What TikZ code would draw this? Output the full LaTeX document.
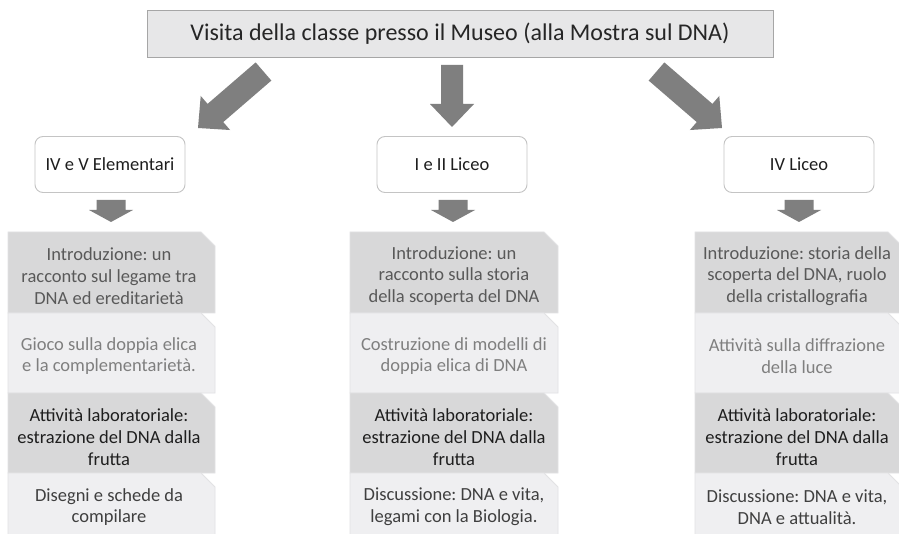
\documentclass[tikz,border=0pt]{standalone}
\usepackage{fontspec}
\setmainfont{Carlito}
\usetikzlibrary{calc}
\definecolor{arrowfill}{HTML}{7F7F7F}
\definecolor{topfill}{HTML}{E7E7E8}
\definecolor{topline}{HTML}{A6A6A6}
\definecolor{boxline}{HTML}{C4C4C4}
\definecolor{darkrow}{HTML}{D8D8D9}
\definecolor{lightrow}{HTML}{EFEFF1}
\definecolor{rowline}{HTML}{E2E2E4}
\definecolor{txtA}{HTML}{595959}
\definecolor{txtB}{HTML}{7F7F7F}
\definecolor{txtC}{HTML}{1E1E1E}
\definecolor{txtD}{HTML}{3F3F3F}
\definecolor{txtTop}{HTML}{262626}
\newcommand\blockarrow[5]{%
  \path coordinate (abase) at ($(#2)!#5!(#1)$);
  \fill[arrowfill] ($(#1)!#3!90:(#2)$) -- ($(abase)!#3!90:(#2)$) -- ($(abase)!#4!90:(#2)$) -- (#2)
    -- ($(abase)!#4!-90:(#2)$) -- ($(abase)!#3!-90:(#2)$) -- ($(#1)!#3!-90:(#2)$) -- cycle;}
\newcommand\rowshape[5]{%
  \filldraw[#5] (#1,#2) -- ({#3-14},#2) -- (#3,{#2+14}) -- (#3,#4) -- (#1,#4) -- cycle;}
\frenchspacing
\begin{document}
\begin{tikzpicture}[x=1pt,y=-1pt,
  topbox/.style={draw=topline, fill=topfill, line width=0.9pt, minimum width=626pt, minimum height=47pt,
    inner sep=0pt, text=txtTop, font=\frenchspacing\fontsize{24}{29}\selectfont},
  levelbox/.style={draw=boxline, fill=white, line width=0.9pt, rounded corners=8pt, minimum width=150pt,
    minimum height=56pt, inner sep=0pt, text=txtC, font=\frenchspacing\fontsize{18.5}{22}\selectfont},
  rowtxt/.style={align=center, inner sep=0pt, font=\frenchspacing\fontsize{18.5}{21.7}\selectfont},
  dk/.style={fill=darkrow, draw=rowline, line width=0.8pt},
  lt/.style={fill=lightrow, draw=rowline, line width=0.8pt}]
\clip (0,0) rectangle (899,534);
\fill[white] (0,0) rectangle (899,534);

% top
\node[topbox] (top) at (460,33.5) {Visita della classe presso il Museo (alla Mostra sul DNA)};

% level boxes
\node[levelbox] (b1) at (110,164.5) {IV e V Elementari};
\node[levelbox] (b2) at (452,164.5) {I e II Liceo};
\node[levelbox] (b3) at (799,164.5) {IV Liceo};

% big arrows
\coordinate (a1s) at (263.5,71.5); \coordinate (a1t) at (198,128);
\coordinate (a2s) at (452,65);     \coordinate (a2t) at (452,127);
\coordinate (a3s) at (656.5,71.5); \coordinate (a3t) at (722,128);
\blockarrow{a1s}{a1t}{12pt}{22.5pt}{23pt}
\blockarrow{a2s}{a2t}{11pt}{22pt}{23pt}
\blockarrow{a3s}{a3t}{12pt}{22.5pt}{23pt}

% small arrows
\coordinate (s1s) at (111,200); \coordinate (s1t) at (111,222);
\coordinate (s2s) at (453,200); \coordinate (s2t) at (453,222);
\coordinate (s3s) at (799,200); \coordinate (s3t) at (799,222);
\blockarrow{s1s}{s1t}{14.5pt}{22pt}{12pt}
\blockarrow{s2s}{s2t}{14.5pt}{22pt}{12pt}
\blockarrow{s3s}{s3t}{14.5pt}{22pt}{12pt}

% stacks: rows
\foreach \xa/\xb in {8/215, 350/558, 695/902}{
  \rowshape{\xa}{232}{\xb}{313}{dk}
  \rowshape{\xa}{313}{\xb}{393}{lt}
  \rowshape{\xa}{393}{\xb}{473}{dk}
  \rowshape{\xa}{473}{\xb}{540}{lt}
}

% left column text
\node[rowtxt, text=txtA] (l1) at (109,276) {Introduzione: un\\racconto sul legame tra\\DNA ed ereditarietà};
\node[rowtxt, text=txtB] (l2) at (109,356) {Gioco sulla doppia elica\\e la complementarietà.};
\node[rowtxt, text=txtC] (l3) at (109,437) {Attività laboratoriale:\\estrazione del DNA dalla\\frutta};
\node[rowtxt, text=txtD] (l4) at (109,507) {Disegni e schede da\\compilare};

% middle column text
\node[rowtxt, text=txtA] (m1) at (454,276) {Introduzione: un\\racconto sulla storia\\della scoperta del DNA};
\node[rowtxt, text=txtB] (m2) at (454,356) {Costruzione di modelli di\\doppia elica di DNA};
\node[rowtxt, text=txtC] (m3) at (454,437) {Attività laboratoriale:\\estrazione del DNA dalla\\frutta};
\node[rowtxt, text=txtD] (m4) at (454,507) {Discussione: DNA e vita,\\legami con la Biologia.};

% right column text
\node[rowtxt, text=txtA] (r1) at (797,276) {Introduzione: storia della\\scoperta del DNA, ruolo\\della cristallografia};
\node[rowtxt, text=txtB] (r2) at (797,356) {Attività sulla diffrazione\\della luce};
\node[rowtxt, text=txtC] (r3) at (797,437) {Attività laboratoriale:\\estrazione del DNA dalla\\frutta};
\node[rowtxt, text=txtD] (r4) at (797,507) {Discussione: DNA e vita,\\DNA e attualità.};
\end{tikzpicture}
\end{document}
